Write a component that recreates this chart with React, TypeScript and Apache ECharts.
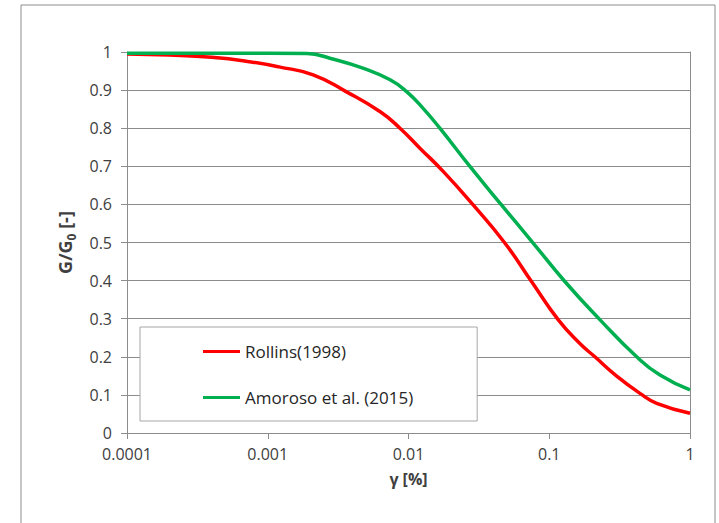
import React, { useEffect, useRef } from "react";
import * as echarts from "echarts";

const rollinsX = [0.0001, 0.0002, 0.0004, 0.0007, 0.0012, 0.0021, 0.0036, 0.0063, 0.0087, 0.0121, 0.0177, 0.0289, 0.0485, 0.075, 0.116, 0.165, 0.211, 0.3, 0.441, 0.58, 1];
const rollinsY = [0.995, 0.992, 0.986, 0.976, 0.961, 0.94, 0.896, 0.843, 0.8, 0.747, 0.686, 0.598, 0.498, 0.397, 0.297, 0.235, 0.2, 0.15, 0.104, 0.078, 0.052];
const amorosoX = [0.0001, 0.001, 0.0019, 0.0028, 0.0048, 0.0074, 0.0097, 0.0127, 0.0167, 0.0274, 0.0459, 0.0771, 0.1295, 0.2296, 0.418, 0.612, 1];
const amorosoY = [0.997, 0.997, 0.996, 0.983, 0.957, 0.927, 0.896, 0.852, 0.8, 0.699, 0.598, 0.498, 0.397, 0.297, 0.2, 0.152, 0.113];
const seriesNames = ["Rollins(1998)", "Amoroso et al. (2015)"];
const xTickLabels: Record<string, string> = { "0.0001": "0.0001", "0.001": "0.001", "0.01": "0.01", "0.1": "0.1", "1": "1" };
const FONT = "Open Sans";

export default function App() {
  const ref = useRef<HTMLDivElement>(null);
  useEffect(() => {
    document.body.style.margin = "0";
    const chart = echarts.init(ref.current!, null, { renderer: "svg" });
    const zip = (xs: number[], ys: number[]) => xs.map((x, i) => [x, ys[i]]);
    chart.setOption({
      animation: false,
      backgroundColor: "#fff",
      textStyle: { fontFamily: FONT },
      graphic: [
        {
          type: "rect",
          shape: { x: 21, y: 5, width: 694, height: 560 },
          style: { fill: "none", stroke: "#8c8c8c", lineWidth: 1 },
          silent: true,
        },
      ],
      grid: { left: 127, right: 29, top: 52, bottom: 90 },
      legend: {
        orient: "vertical",
        left: 140,
        top: 327,
        padding: [16, 64, 15, 63],
        itemGap: 29,
        backgroundColor: "#fff",
        borderColor: "#a6a6a6",
        borderWidth: 1,
        icon: "rect",
        itemWidth: 37,
        itemHeight: 3,
        textStyle: { fontSize: 17, color: "#262626", fontFamily: FONT },
        data: seriesNames,
      },
      xAxis: {
        type: "log",
        logBase: 10,
        min: 0.0001,
        max: 1,
        name: "γ [%]",
        nameLocation: "middle",
        nameGap: 38,
        nameTextStyle: { fontSize: 16, fontWeight: "bold", color: "#404040", fontFamily: FONT },
        axisLine: { show: true, lineStyle: { color: "#8c8c8c", width: 1 } },
        axisTick: { show: true, length: 6, lineStyle: { color: "#8c8c8c" } },
        minorTick: { show: false },
        splitLine: { show: false },
        axisLabel: {
          fontSize: 16,
          color: "#404040",
          margin: 13,
          formatter: (v: number) => {
            const k = String(+v.toPrecision(6));
            return xTickLabels[k] ?? k;
          },
        },
      },
      yAxis: [
        {
          type: "value",
          min: 0,
          max: 1,
          interval: 0.1,
          name: "{a|G/G}{s|0}{a| [-]}",
          nameLocation: "middle",
          nameGap: 50,
          nameRotate: 90,
          nameTextStyle: {
            rich: {
              a: { fontSize: 18, fontWeight: "bold", color: "#404040", fontFamily: FONT, lineHeight: 24, verticalAlign: "middle" },
              s: { fontSize: 12, fontWeight: "bold", color: "#404040", fontFamily: FONT, lineHeight: 24, verticalAlign: "bottom", padding: [9, 0, 0, 0] },
            },
          },
          axisLine: { show: true, lineStyle: { color: "#8c8c8c", width: 1 } },
          axisTick: { show: true, length: 6, lineStyle: { color: "#8c8c8c" } },
          splitLine: { show: true, lineStyle: { color: "#8c8c8c", width: 1 } },
          axisLabel: {
            fontSize: 16,
            color: "#404040",
            margin: 15,
            formatter: (v: number) => String(+v.toFixed(1)),
          },
        },
        {
          type: "value",
          min: 0,
          max: 1,
          position: "right",
          axisLine: { show: true, lineStyle: { color: "#8c8c8c", width: 1 } },
          axisTick: { show: false },
          axisLabel: { show: false },
          splitLine: { show: false },
        },
      ],
      series: [
        {
          name: seriesNames[0],
          type: "line",
          data: zip(rollinsX, rollinsY),
          smooth: 0.5,
          showSymbol: false,
          symbol: "none",
          lineStyle: { color: "#ff0000", width: 3.5 },
          itemStyle: { color: "#ff0000" },
          z: 3,
        },
        {
          name: seriesNames[1],
          type: "line",
          data: zip(amorosoX, amorosoY),
          smooth: 0.5,
          showSymbol: false,
          symbol: "none",
          lineStyle: { color: "#00b050", width: 3.5 },
          itemStyle: { color: "#00b050" },
          z: 4,
        },
      ],
    });
    return () => chart.dispose();
  }, []);
  return <div ref={ref} style={{ width: 719, height: 523 }} />;
}
